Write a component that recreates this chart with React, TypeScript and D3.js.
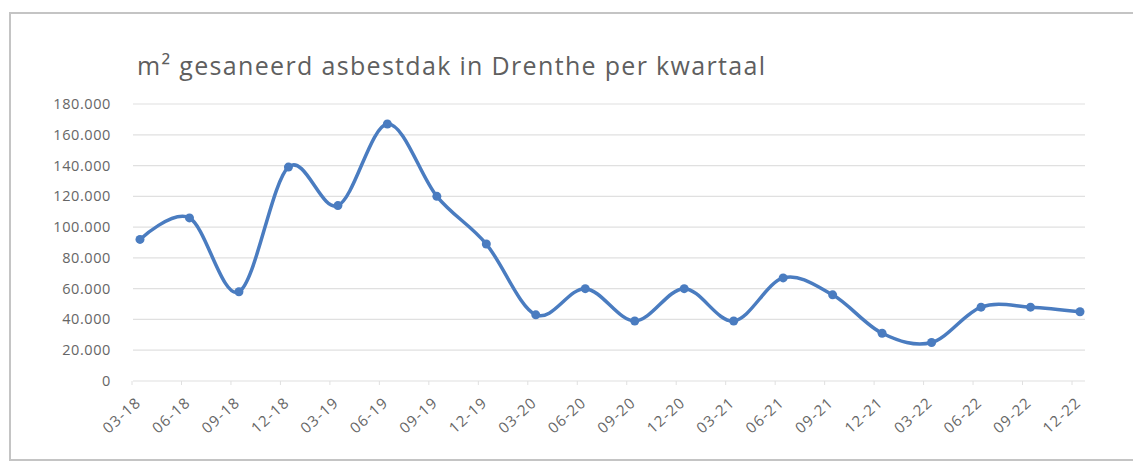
import React, { useEffect, useRef } from 'react';
import * as d3 from 'd3';

const kwartalen = ['03-18', '06-18', '09-18', '12-18', '03-19', '06-19', '09-19', '12-19', '03-20', '06-20',
  '09-20', '12-20', '03-21', '06-21', '09-21', '12-21', '03-22', '06-22', '09-22', '12-22'];
const gesaneerd = [92000, 106000, 58000, 139000, 114000, 167000, 120000, 89000, 43000, 60000,
  39000, 60000, 39000, 67000, 56000, 31000, 25000, 48000, 48000, 45000];
const yTicks = [0, 20000, 40000, 60000, 80000, 100000, 120000, 140000, 160000, 180000];

const W = 1133;
const H = 464;

export default function App() {
  const svgRef = useRef<SVGSVGElement>(null);

  useEffect(() => {
    document.body.style.margin = '0';
    const svg = d3.select(svgRef.current);
    svg.selectAll('*').remove();

    const plot = { left: 133, right: 1085, top: 104, bottom: 381 };
    const x = d3.scalePoint<string>().domain(kwartalen).range([140, 1080]);
    const y = d3.scaleLinear().domain([0, 180000]).range([plot.bottom, plot.top]);
    const fmt = (v: number) => d3.format(',')(v).replace(/,/g, '.');

    // kader
    svg.append('rect').attr('x', 10).attr('y', 13).attr('width', W).attr('height', 447)
      .attr('fill', '#fff').attr('stroke', '#c4c4c4').attr('stroke-width', 2);

    svg.append('text').attr('x', 137).attr('y', 75)
      .attr('font-family', 'Open Sans').attr('font-size', 25).attr('fill', '#5f5f5f')
      .attr('textLength', 628).attr('lengthAdjust', 'spacing')
      .text('m² gesaneerd asbestdak in Drenthe per kwartaal');

    // rasterlijnen
    svg.append('g').selectAll('line').data(yTicks).join('line')
      .attr('x1', plot.left).attr('x2', plot.right)
      .attr('y1', d => y(d)).attr('y2', d => y(d))
      .attr('stroke', '#e0e0e0').attr('stroke-width', 1.2);

    svg.append('g').selectAll('text').data(yTicks).join('text')
      .attr('x', 111).attr('y', d => y(d) + 5).attr('text-anchor', 'end')
      .attr('font-family', 'Open Sans').attr('font-size', 14.5).attr('fill', '#666')
      .attr('letter-spacing', 0.6)
      .text(d => fmt(d));

    // tick marks & labels
    svg.append('g').selectAll('line').data(kwartalen).join('line')
      .attr('x1', d => x(d)! - 8).attr('x2', d => x(d)! - 8)
      .attr('y1', plot.bottom).attr('y2', plot.bottom + 4)
      .attr('stroke', '#e0e0e0');

    svg.append('g').selectAll('text').data(kwartalen).join('text')
      .attr('transform', d => `translate(${x(d)! + 2},${plot.bottom + 23}) rotate(-42)`)
      .attr('text-anchor', 'end')
      .attr('font-family', 'Open Sans').attr('font-size', 15).attr('fill', '#666')
      .attr('letter-spacing', 1.2)
      .text(d => d);

    const line = d3.line<number>()
      .x((_, i) => x(kwartalen[i])!)
      .y(d => y(d))
      .curve(d3.curveCardinal.tension(0));

    svg.append('path').datum(gesaneerd).attr('d', line)
      .attr('fill', 'none').attr('stroke', '#4a7cc0').attr('stroke-width', 3.5)
      .attr('stroke-linecap', 'round');

    svg.append('g').selectAll('circle').data(gesaneerd).join('circle')
      .attr('cx', (_, i) => x(kwartalen[i])!).attr('cy', d => y(d)).attr('r', 4.5)
      .attr('fill', '#4a7cc0');
  }, []);

  return <svg ref={svgRef} width={W} height={H} style={{ display: 'block', background: '#fff' }} />;
}
